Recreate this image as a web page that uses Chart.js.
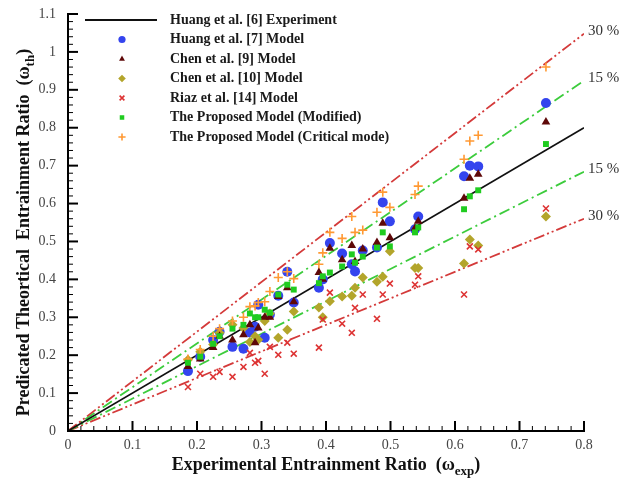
<!DOCTYPE html>
<html><head><meta charset="utf-8">
<script src="https://cdn.jsdelivr.net/npm/chart.js@4.4.1/dist/chart.umd.min.js"></script>
<style>html,body{margin:0;padding:0;background:#fff;}#wrap{width:638px;height:482px;position:relative;}</style>
</head><body><div id="wrap"><canvas id="c" width="638" height="482"></canvas></div>
<script>
// ---- data ----
const expRatio   = [0.186,0.205,0.225,0.235,0.255,0.272,0.282,0.290,0.295,0.305,0.313,0.326,0.340,0.350,0.389,0.395,0.406,0.425,0.440,0.445,0.457,0.479,0.488,0.499,0.538,0.543,0.614,0.623,0.636,0.741];
const huang7     = [0.158,0.196,0.240,0.262,0.222,0.217,0.260,0.275,0.333,0.246,0.307,0.357,0.420,0.339,0.378,0.400,0.496,0.468,0.440,0.421,0.476,0.484,0.603,0.553,0.532,0.566,0.672,0.700,0.698,0.865];
const chen9      = [0.170,0.190,0.220,0.250,0.240,0.254,0.280,0.233,0.272,0.300,0.300,0.355,0.378,0.341,0.418,0.400,0.482,0.452,0.489,0.447,0.480,0.497,0.548,0.510,0.535,0.553,0.614,0.667,0.677,0.815];
const chen10     = [0.188,0.209,0.228,0.259,0.280,0.272,0.235,0.250,0.241,0.290,0.310,0.246,0.267,0.315,0.326,0.300,0.342,0.355,0.357,0.378,0.405,0.394,0.407,0.474,0.430,0.430,0.442,0.505,0.489,0.566];
const riaz14     = [0.116,0.151,0.143,0.156,0.143,0.169,0.206,0.180,0.185,0.151,0.222,0.201,0.233,0.204,0.220,0.294,0.365,0.283,0.259,0.325,0.360,0.296,0.360,0.389,0.386,0.408,0.360,0.487,0.479,0.587];
const modified   = [0.180,0.196,0.230,0.250,0.270,0.280,0.310,0.300,0.300,0.320,0.312,0.360,0.386,0.373,0.390,0.408,0.418,0.434,0.466,0.444,0.460,0.484,0.524,0.487,0.524,0.537,0.585,0.619,0.635,0.757];
const critical   = [0.190,0.215,0.250,0.270,0.290,0.300,0.328,0.330,0.339,0.341,0.368,0.405,0.420,0.402,0.440,0.470,0.524,0.508,0.566,0.524,0.530,0.577,0.630,0.590,0.624,0.646,0.717,0.765,0.780,0.960];
const seriesLabels = ['Huang et al. [6] Experiment','Huang et al. [7] Model','Chen et al. [9] Model','Chen et al. [10] Model','Riaz et al. [14] Model','The Proposed Model (Modified)','The Proposed Model (Critical mode)'];
const refLineX   = [0, 0.8];
const bandFactors = [1.31, 1.155, 0.855, 0.70];
const bandLabels  = ['30 %', '15 %', '15 %', '30 %'];
const xTicks = ['0','0.1','0.2','0.3','0.4','0.5','0.6','0.7','0.8'];
const yTicks = ['0','0.1','0.2','0.3','0.4','0.5','0.6','0.7','0.8','0.9','1','1.1'];

const pts = ys => expRatio.map((x,i)=>({x:x,y:ys[i]}));
const refLine = f => refLineX.map(x=>({x:x,y:x*f}));

const SERIF = '"Liberation Serif","Times New Roman",serif';

function markerSet(label, ys, style, r, color, bw, order, lr){
  return {label:label, data:pts(ys), pointStyle:style, pointRadius:r,
    pointBackgroundColor:color, pointBorderColor:color, pointBorderWidth:bw,
    backgroundColor:color, borderColor:color, showLine:false, order:order, legendRadius:lr, bw:bw};
}
const datasets = [
  {label:seriesLabels[0], data:refLine(1), showLine:true, borderColor:'#111', borderWidth:1.6, pointRadius:0, order:10, isLine:true},
  markerSet(seriesLabels[1], huang7,  'circle',   5,   '#3444ee', 0,   6, 3.6),
  markerSet(seriesLabels[2], chen9,   'triangle', 5,   '#5e0808', 0,   2, 3.4),
  markerSet(seriesLabels[3], chen10,  'rectRot',  5,   '#b3a52b', 0,   5, 3.8),
  markerSet(seriesLabels[4], riaz14,  'crossRot', 4.2, '#dd3333', 1.6, 4, 3.4),
  markerSet(seriesLabels[5], modified,'rect',     4.2, '#20cc20', 0,   1, 3.2),
  markerSet(seriesLabels[6], critical,'cross',    4.5, '#ff9933', 1.6, 3, 3.6),
];
const bandStyles = [
  {color:'#d43a3a', dash:[11,3,2,3,2,3]},
  {color:'#3ccc3c', dash:[11,4,2,4]},
  {color:'#3ccc3c', dash:[11,4,2,4]},
  {color:'#d43a3a', dash:[11,3,2,3,2,3]},
];
bandFactors.forEach((f,i)=>{
  datasets.push({label:'band'+i, data:refLine(f), showLine:true, borderColor:bandStyles[i].color, borderDash:bandStyles[i].dash, borderWidth:1.8, pointRadius:0, order:11, isBand:true});
});

function measureSubText(ctx, parts, size){
  let w = 0;
  parts.forEach(p=>{ ctx.font = 'bold '+(p.sub?Math.round(size*0.7):size)+'px '+SERIF; w += ctx.measureText(p.t).width; });
  return w;
}
function renderSubText(ctx, parts, size, x, y){
  let cx = x;
  parts.forEach(p=>{
    ctx.font = 'bold '+(p.sub?Math.round(size*0.7):size)+'px '+SERIF;
    ctx.fillText(p.t, cx, p.sub ? y + size*0.28 : y);
    cx += ctx.measureText(p.t).width;
  });
}

const decor = {
  id:'decor',
  afterDraw(chart){
    const ctx = chart.ctx, xs = chart.scales.x, ys = chart.scales.y, a = chart.chartArea;
    ctx.save();
    ctx.setLineDash([]);
    // inward ticks
    ctx.strokeStyle = '#000';
    for (let k=0;k<=40;k++){
      const v = k*0.02; const major = (k%5===0);
      const px = xs.getPixelForValue(v);
      ctx.lineWidth = major?2:1;
      ctx.beginPath(); ctx.moveTo(px, a.bottom); ctx.lineTo(px, a.bottom-(major?10:5)); ctx.stroke();
    }
    for (let k=0;k<=55;k++){
      const v = k*0.02; const major = (k%5===0);
      const py = ys.getPixelForValue(v);
      ctx.lineWidth = major?2:1;
      ctx.beginPath(); ctx.moveTo(a.left, py); ctx.lineTo(a.left+(major?10:5), py); ctx.stroke();
    }
    // band labels
    ctx.fillStyle = '#333';
    ctx.font = '15px '+SERIF;
    ctx.textAlign = 'left'; ctx.textBaseline = 'middle';
    bandFactors.forEach((f,i)=>{
      const xe = refLineX[1];
      ctx.fillText(bandLabels[i], xs.getPixelForValue(xe)+4, ys.getPixelForValue(xe*f)-3);
    });
    // legend
    datasets.slice(0,7).forEach((d,i)=>{
      const y = 20 + i*19.5;
      if (d.isLine){
        ctx.strokeStyle = d.borderColor; ctx.lineWidth = 2;
        ctx.beginPath(); ctx.moveTo(85,y); ctx.lineTo(157,y); ctx.stroke();
      } else {
        ctx.fillStyle = d.backgroundColor; ctx.strokeStyle = d.borderColor; ctx.lineWidth = d.bw;
        Chart.helpers.drawPoint(ctx, {pointStyle:d.pointStyle, radius:d.legendRadius, rotation:0, borderWidth:d.bw}, 122, y);
      }
      ctx.fillStyle = '#1a1a1a';
      ctx.font = 'bold 14px '+SERIF;
      ctx.textAlign = 'left'; ctx.textBaseline = 'middle';
      ctx.fillText(d.label, 170, y);
    });
    // axis titles
    ctx.fillStyle = '#111';
    ctx.textAlign = 'left'; ctx.textBaseline = 'alphabetic';
    const xParts = [{t:'Experimental Entrainment Ratio  (\u03c9'},{t:'exp',sub:true},{t:')'}];
    const xw = measureSubText(ctx, xParts, 18);
    renderSubText(ctx, xParts, 18, (a.left+a.right)/2 - xw/2, 470);
    const yParts = [{t:'Predicated Theortical  Entrainment Ratio  (\u03c9'},{t:'th',sub:true},{t:')'}];
    const yw = measureSubText(ctx, yParts, 18);
    ctx.translate(29, (a.top+a.bottom)/2 + 10);
    ctx.rotate(-Math.PI/2);
    renderSubText(ctx, yParts, 18, -yw/2, 0);
    ctx.restore();
  }
};

new Chart(document.getElementById('c'), {
  type:'scatter',
  data:{datasets:datasets},
  options:{
    responsive:false, animation:false, devicePixelRatio:1, events:[],
    layout:{padding:{left:0,right:54,top:14,bottom:0}},
    plugins:{legend:{display:false}, tooltip:{enabled:false}},
    scales:{
      x:{type:'linear', min:0, max:0.8,
         afterFit(s){ s.height = 51; s.paddingLeft = 0; s.paddingRight = 0; },
         grid:{display:false, drawTicks:false},
         border:{display:true, color:'#000', width:2},
         ticks:{stepSize:0.1, padding:6, color:'#444', font:{family:SERIF, size:14},
                callback:(v,i)=>xTicks[i]}},
      y:{type:'linear', min:0, max:1.1,
         afterFit(s){ s.width = 68; s.paddingTop = 0; s.paddingBottom = 0; },
         grid:{display:false, drawTicks:false},
         border:{display:true, color:'#000', width:2},
         ticks:{stepSize:0.1, padding:12, color:'#444', font:{family:SERIF, size:14},
                callback:(v,i)=>yTicks[i]}}
    }
  },
  plugins:[decor]
});
</script></body></html>
